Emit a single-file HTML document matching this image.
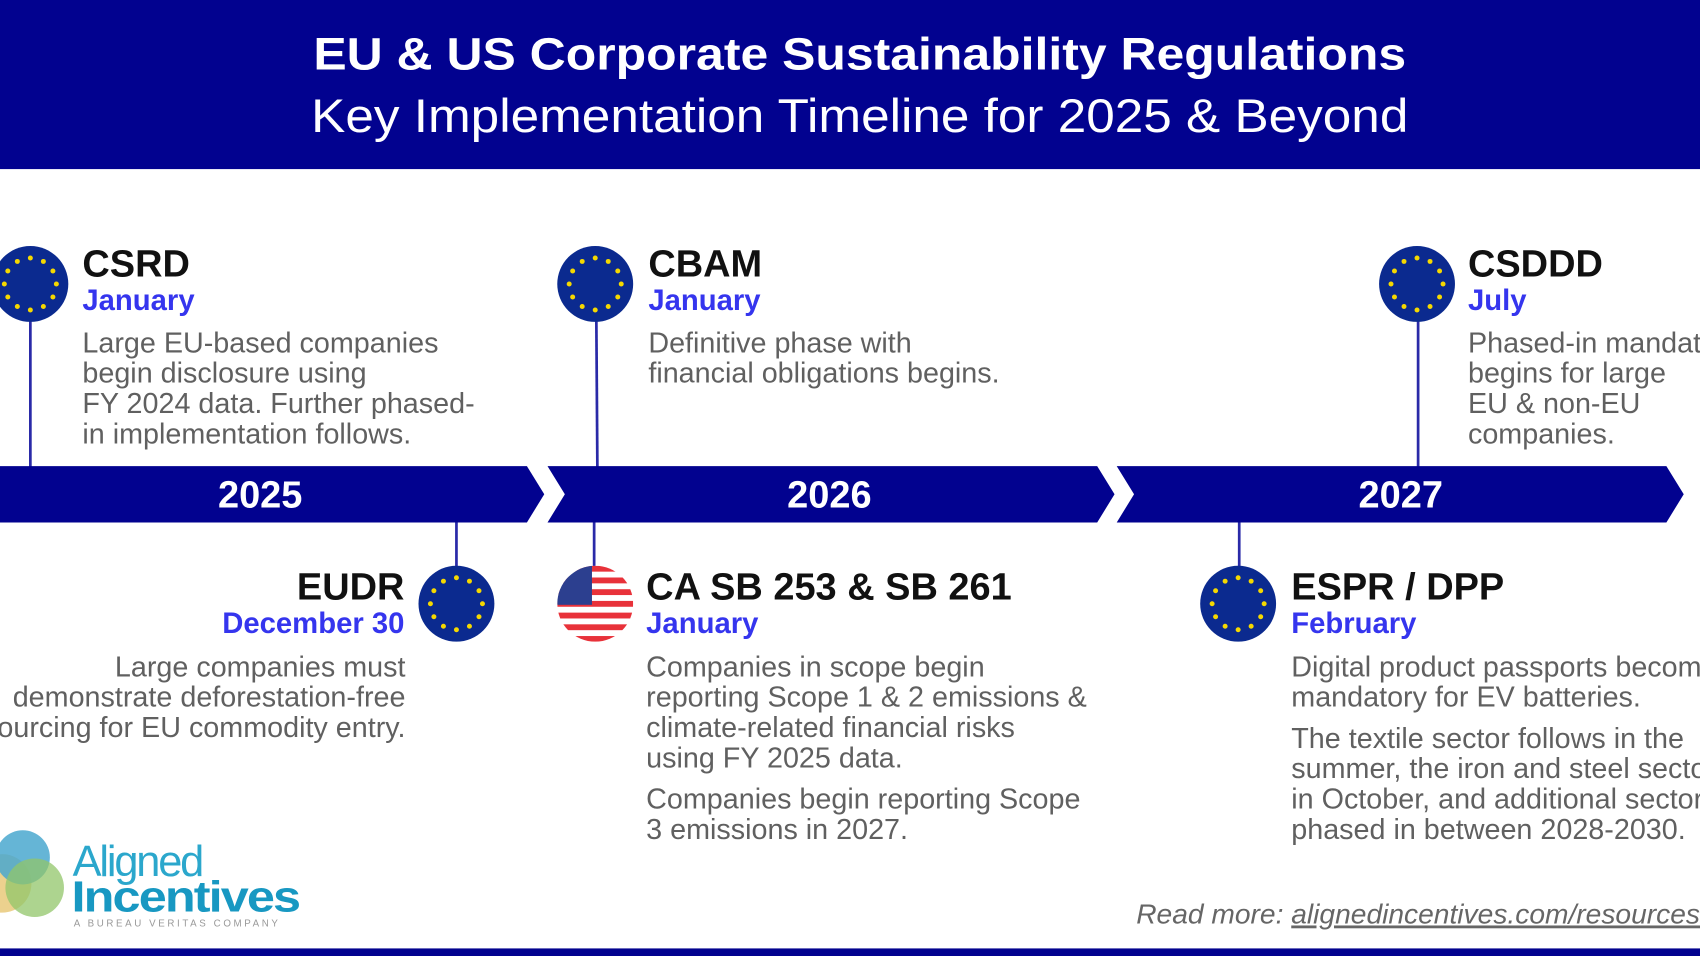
<!DOCTYPE html>
<html><head><meta charset="utf-8"><style>
html,body{margin:0;padding:0;background:#fff;}
svg{display:block}
text{font-family:"Liberation Sans",Arial,sans-serif;}
.t{font-weight:bold;font-size:35px;fill:#111;}
.m{font-weight:bold;font-size:27px;fill:#3535ee;}
.b{font-size:26.5px;fill:#606060;}
</style></head><body>
<svg width="1700" height="956" viewBox="0 0 1568 882" preserveAspectRatio="none" xmlns="http://www.w3.org/2000/svg">
<defs>
<g id="eu"><circle r="35" fill="#0b2a8f"/>
<g fill="#f5d800">
<circle cx="0" cy="-24" r="2.3"/><circle cx="12" cy="-20.8" r="2.3"/><circle cx="20.8" cy="-12" r="2.3"/><circle cx="24" cy="0" r="2.3"/><circle cx="20.8" cy="12" r="2.3"/><circle cx="12" cy="20.8" r="2.3"/><circle cx="0" cy="24" r="2.3"/><circle cx="-12" cy="20.8" r="2.3"/><circle cx="-20.8" cy="12" r="2.3"/><circle cx="-24" cy="0" r="2.3"/><circle cx="-20.8" cy="-12" r="2.3"/><circle cx="-12" cy="-20.8" r="2.3"/>
</g></g>
<clipPath id="fc"><circle cx="549" cy="557" r="35"/></clipPath>
</defs>
<rect x="0" y="0" width="1568" height="156" fill="#02028f"/>
<text x="793" y="64" text-anchor="middle" font-weight="bold" font-size="42" fill="#fff" textLength="1008" lengthAdjust="spacingAndGlyphs">EU &amp; US Corporate Sustainability Regulations</text>
<text x="793" y="122" text-anchor="middle" font-size="44" fill="#fff" textLength="1012" lengthAdjust="spacingAndGlyphs">Key Implementation Timeline for 2025 &amp; Beyond</text>

<g stroke="#2a2aa8" stroke-width="2.5">
<line x1="28" y1="290" x2="28" y2="432"/><line x1="550" y1="290" x2="551" y2="432"/><line x1="1308" y1="290" x2="1308" y2="432"/>
<line x1="421" y1="480" x2="421" y2="525"/><line x1="548" y1="480" x2="548" y2="525"/><line x1="1143" y1="480" x2="1143" y2="525"/>
</g>
<g fill="#02028f">
<polygon points="0,430 486,430 502,456 486,482 0,482"/>
<polygon points="505,430 1012,430 1028,456 1012,482 505,482 521,456"/>
<polygon points="1030,430 1537,430 1553,456 1537,482 1030,482 1046,456"/>
</g>
<g font-weight="bold" font-size="35" fill="#fff" text-anchor="middle">
<text x="240" y="468">2025</text><text x="765" y="468">2026</text><text x="1292" y="468">2027</text>
</g>

<use href="#eu" x="28" y="262"/><use href="#eu" x="549" y="262"/><use href="#eu" x="1307" y="262"/>
<use href="#eu" x="421" y="557"/><use href="#eu" x="1142" y="557"/>
<g clip-path="url(#fc)">
<rect x="514" y="522" width="70" height="70" fill="#fff"/>
<g fill="#e8323a">
<rect x="514" y="522" width="70" height="5.4"/><rect x="514" y="532.8" width="70" height="5.4"/><rect x="514" y="543.6" width="70" height="5.4"/><rect x="514" y="554.4" width="70" height="5.4"/><rect x="514" y="565.2" width="70" height="5.4"/><rect x="514" y="576" width="70" height="5.4"/><rect x="514" y="586.8" width="70" height="5.4"/>
</g>
<rect x="514" y="522" width="32" height="36" fill="#2c3f8f"/>
</g>

<text class="t" x="76" y="255">CSRD</text>
<text class="m" x="76" y="286">January</text>
<text class="b" x="76" y="325">Large EU-based companies</text><text class="b" x="76" y="353">begin disclosure using</text><text class="b" x="76" y="381">FY 2024 data. Further phased-</text><text class="b" x="76" y="409">in implementation follows.</text>

<text class="t" x="598" y="255">CBAM</text>
<text class="m" x="598" y="286">January</text>
<text class="b" x="598" y="325">Definitive phase with</text><text class="b" x="598" y="353">financial obligations begins.</text>

<text class="t" x="1354" y="255">CSDDD</text>
<text class="m" x="1354" y="286">July</text>
<text class="b" x="1354" y="325">Phased-in mandate</text><text class="b" x="1354" y="353">begins for large</text><text class="b" x="1354" y="381">EU &amp; non-EU</text><text class="b" x="1354" y="409">companies.</text>

<text class="t" x="373" y="553" text-anchor="end">EUDR</text>
<text class="m" x="373" y="584" text-anchor="end">December 30</text>
<g text-anchor="end"><text class="b" x="374" y="624">Large companies must</text><text class="b" x="374" y="652">demonstrate deforestation-free</text><text class="b" x="374" y="680">sourcing for EU commodity entry.</text></g>

<text class="t" x="596" y="553">CA SB 253 &amp; SB 261</text>
<text class="m" x="596" y="584">January</text>
<text class="b" x="596" y="624">Companies in scope begin</text><text class="b" x="596" y="652">reporting Scope 1 &amp; 2 emissions &amp;</text><text class="b" x="596" y="680">climate-related financial risks</text><text class="b" x="596" y="708">using FY 2025 data.</text>
<text class="b" x="596" y="746">Companies begin reporting Scope</text><text class="b" x="596" y="774">3 emissions in 2027.</text>

<text class="t" x="1191" y="553">ESPR / DPP</text>
<text class="m" x="1191" y="584">February</text>
<text class="b" x="1191" y="624">Digital product passports become</text><text class="b" x="1191" y="652">mandatory for EV batteries.</text>
<text class="b" x="1191" y="690">The textile sector follows in the</text><text class="b" x="1191" y="718">summer, the iron and steel sector</text><text class="b" x="1191" y="746">in October, and additional sectors</text><text class="b" x="1191" y="774">phased in between 2028-2030.</text>

<circle cx="2" cy="815" r="27" fill="#e9c97a" opacity="0.85"/>
<circle cx="21" cy="791" r="25" fill="#4aa8cf" opacity="0.85"/>
<circle cx="32" cy="819" r="27" fill="#92c66a" opacity="0.75"/>
<text x="67" y="808" font-size="40" fill="#2ba7cc" letter-spacing="-2">Aligned</text>
<text x="66" y="841" font-size="40" font-weight="bold" fill="#1898c2" letter-spacing="-1.5" textLength="210" lengthAdjust="spacingAndGlyphs">Incentives</text>
<text x="68" y="855" font-size="9" fill="#999" letter-spacing="2.4">A BUREAU VERITAS COMPANY</text>

<text x="1048" y="852" font-size="26" font-style="italic" fill="#666">Read more: <tspan text-decoration="underline">alignedincentives.com/resources</tspan></text>
<rect x="0" y="875" width="1568" height="7" fill="#02028f"/>
</svg>
</body></html>
